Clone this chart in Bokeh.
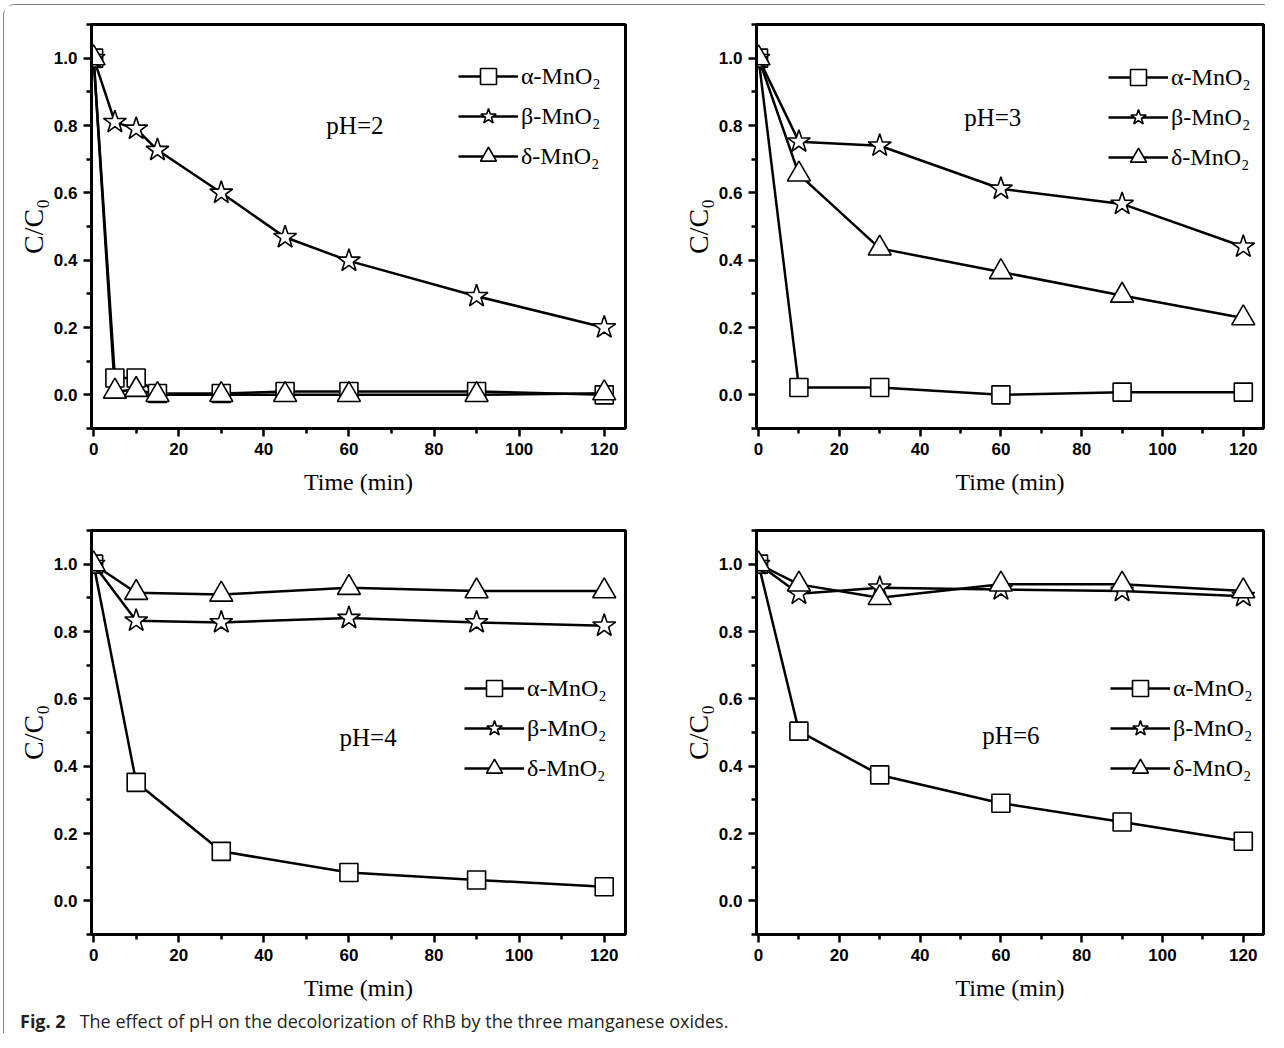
from bokeh.plotting import figure
from bokeh.layouts import column, row
from bokeh.models import Div, Label, Legend, LegendItem, FixedTicker, PrintfTickFormatter
from bokeh.embed import file_html
from bokeh.resources import INLINE

# ---------------- data ----------------
series_names = ["α-MnO₂", "β-MnO₂", "δ-MnO₂"]
x_ticks = [0, 20, 40, 60, 80, 100, 120]
x_minor = [10, 30, 50, 70, 90, 110]
y_ticks = [0.0, 0.2, 0.4, 0.6, 0.8, 1.0]
y_minor = [-0.1, 0.1, 0.3, 0.5, 0.7, 0.9, 1.1]

time_ph2 = [0, 5, 10, 15, 30, 45, 60, 90, 120]
alpha_ph2 = [1.0, 0.05, 0.05, 0.004, 0.004, 0.01, 0.01, 0.01, 0.0]
beta_ph2 = [1.0, 0.81, 0.79, 0.727, 0.60, 0.468, 0.398, 0.293, 0.20]
delta_ph2 = [1.0, 0.01, 0.015, 0.0, 0.0, 0.0, 0.0, 0.0, 0.005]

time_ph3 = [0, 10, 30, 60, 90, 120]
alpha_ph3 = [1.0, 0.022, 0.022, 0.0, 0.008, 0.008]
beta_ph3 = [1.0, 0.752, 0.74, 0.612, 0.567, 0.44]
delta_ph3 = [1.0, 0.655, 0.435, 0.365, 0.295, 0.228]

time_ph4 = [0, 10, 30, 60, 90, 120]
alpha_ph4 = [1.0, 0.352, 0.147, 0.084, 0.062, 0.042]
beta_ph4 = [1.0, 0.832, 0.827, 0.84, 0.827, 0.817]
delta_ph4 = [1.0, 0.915, 0.91, 0.93, 0.92, 0.92]

time_ph6 = [0, 10, 30, 60, 90, 120]
alpha_ph6 = [1.0, 0.504, 0.374, 0.29, 0.234, 0.177]
beta_ph6 = [1.0, 0.912, 0.93, 0.925, 0.92, 0.905]
delta_ph6 = [1.0, 0.94, 0.90, 0.94, 0.94, 0.92]

caption_bold = "Fig. 2"
caption_text = "The effect of pH on the decolorization of RhB by the three manganese oxides."

# ---------------- styling ----------------
SERIF = "Liberation Serif"
SANS = "Liberation Sans"
markers = ["square", "star", "triangle"]
marker_sizes = [18, 24, 23]


def make_panel(t, ys, ph_text, ph_xy, legend_xy, width, height, mbl, mbr, mbt, mbb):
    p = figure(width=width, height=height, x_range=(-0.5, 125), y_range=(-0.1, 1.1),
               output_backend="svg", toolbar_location=None,
               min_border_left=mbl, min_border_right=mbr,
               min_border_top=mbt, min_border_bottom=mbb)
    p.xgrid.visible = False
    p.ygrid.visible = False
    p.outline_line_color = "black"
    p.outline_line_width = 3
    p.background_fill_color = "white"

    p.xaxis.ticker = FixedTicker(ticks=x_ticks, minor_ticks=x_minor)
    p.yaxis.ticker = FixedTicker(ticks=y_ticks, minor_ticks=y_minor)
    p.yaxis.formatter = PrintfTickFormatter(format="%.1f")
    for ax in (p.xaxis[0], p.yaxis[0]):
        ax.axis_line_width = 3
        ax.axis_line_color = "black"
        ax.major_tick_out = 8
        ax.major_tick_in = 0
        ax.minor_tick_out = 5
        ax.minor_tick_in = 0
        ax.major_tick_line_width = 2.5
        ax.minor_tick_line_width = 2.5
        ax.major_tick_line_color = "black"
        ax.minor_tick_line_color = "black"
        ax.major_label_text_font = SANS
        ax.major_label_text_font_style = "bold"
        ax.major_label_text_font_size = "17px"
        ax.major_label_text_color = "black"
        ax.major_label_standoff = 6
        ax.axis_label_text_font = SERIF
        ax.axis_label_text_font_style = "normal"
        ax.axis_label_text_color = "black"
    p.xaxis.axis_label = "Time (min)"
    p.xaxis.axis_label_text_font_size = "24px"
    p.xaxis.axis_label_standoff = 11
    p.yaxis.axis_label = "C/C₀"
    p.yaxis.axis_label_text_font_size = "28px"
    p.yaxis.axis_label_standoff = 2

    lines = []
    for y in ys:
        lines.append(p.line(t, y, line_color="black", line_width=2.5))
    pts = []
    for y, m, s in zip(ys, markers, marker_sizes):
        pts.append(p.scatter(t, y, marker=m, size=s, fill_color="white",
                             line_color="black", line_width=1.6))

    items = [LegendItem(label=n, renderers=[l, s]) for n, l, s in zip(series_names, lines, pts)]
    leg = Legend(items=items, location=legend_xy, glyph_width=60, glyph_height=40,
                 label_height=40, label_standoff=3, spacing=0, padding=0, margin=0,
                 border_line_alpha=0, background_fill_alpha=0,
                 label_text_font=SERIF, label_text_font_size="24px",
                 label_text_color="black")
    p.add_layout(leg)

    p.add_layout(Label(x=ph_xy[0], y=ph_xy[1], text=ph_text, text_font=SERIF,
                       text_font_size="25px", text_color="black",
                       text_baseline="alphabetic"))
    return p


f1 = make_panel(time_ph2, [alpha_ph2, beta_ph2, delta_ph2], "pH=2", (54.7, 0.80), (367, 252),
                675, 503, 87, 54, 19, 80)
f2 = make_panel(time_ph3, [alpha_ph3, beta_ph3, delta_ph3], "pH=3", (50.9, 0.824), (352, 251),
                586, 503, 54, 2, 19, 80)
f3 = make_panel(time_ph4, [alpha_ph4, beta_ph4, delta_ph4], "pH=4", (57.8, 0.485), (373, 146),
                675, 502, 87, 54, 22, 76)
f4 = make_panel(time_ph6, [alpha_ph6, beta_ph6, delta_ph6], "pH=6", (55.4, 0.491), (354, 146),
                586, 502, 54, 2, 22, 76)

cap = Div(text=f'<span style="font-weight:700;margin-right:14px">{caption_bold}</span>{caption_text}',
          width=1240, height=23, margin=(0, 0, 0, 16),
          styles={"font-family": "'Open Sans'", "font-size": "18px", "color": "#231f20",
                  "line-height": "22px", "white-space": "nowrap"})

root = column(row(f1, f2), row(f3, f4), cap, margin=(4, 0, 0, 3),
              styles={"border-top": "1.5px solid #808080", "border-left": "1.5px solid #808080",
                      "border-top-left-radius": "12px"})

open("out.html", "w").write(file_html(root, INLINE))
